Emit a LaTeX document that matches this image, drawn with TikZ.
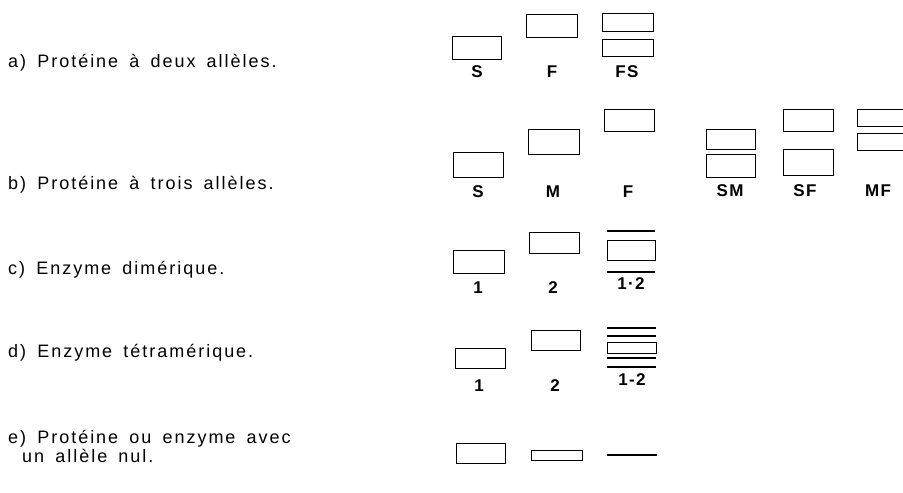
\documentclass[tikz,border=0pt]{standalone}
\usepackage{fontspec}
\setmainfont{Liberation Sans}[LetterSpace=11,WordSpace=1.6]
\newfontfamily\lblfont{Liberation Sans}[LetterSpace=8]
\begin{document}
\begin{tikzpicture}[x=1pt,y=-1pt,
  band/.style={draw=black,line width=0.9pt},
  thinband/.style={draw=black,line width=1.1pt},
  txt/.style={anchor=base west,inner sep=0pt,font=\fontsize{18}{21}\selectfont},
  lbl/.style={inner sep=0pt,font=\lblfont\bfseries\fontsize{17}{19}\selectfont}]
\useasboundingbox (0,0) rectangle (903,493);
% left texts
\node[txt] (ta) at (8,67) {a) Protéine à deux allèles.};
\node[txt] (tb) at (8,189) {b) Protéine à trois allèles.};
\node[txt] (tc) at (8,274) {c) Enzyme dimérique.};
\node[txt] (td) at (8,357) {d) Enzyme tétramérique.};
\node[txt] (te1) at (8,443) {e) Protéine ou enzyme avec};
\node[txt] (te2) at (22,462) {un allèle nul.};
% row a
\draw[band] (452,36) rectangle (501,59);
\draw[band] (526,14) rectangle (577,37);
\draw[band] (602,13) rectangle (653,31);
\draw[band] (602,39) rectangle (653,56);
\node[lbl] (la1) at (477,72) {S};
\node[lbl] (la2) at (552,72) {F};
\node[lbl] (la3) at (627,72) {FS};
% row b
\draw[band] (453,152) rectangle (503,177);
\draw[band] (528,129) rectangle (579,154);
\draw[band] (604,109) rectangle (654,131);
\draw[band] (706,129) rectangle (755,149);
\draw[band] (706,154) rectangle (755,177);
\draw[band] (783,109) rectangle (833,131);
\draw[band] (783,149) rectangle (833,175);
\draw[band] (857,109) rectangle (905,126);
\draw[band] (857,133) rectangle (905,150);
\node[lbl] (lb1) at (478,192) {S};
\node[lbl] (lb2) at (553,192) {M};
\node[lbl] (lb3) at (628,192) {F};
\node[lbl] (lb4) at (730,191) {SM};
\node[lbl] (lb5) at (805,191) {SF};
\node[lbl] (lb6) at (878,191) {MF};
% row c
\draw[band] (453,250) rectangle (504,273);
\draw[band] (529,232) rectangle (579,253);
\draw[thinband] (607,231) -- (655,231);
\draw[band] (607,240) rectangle (655,260);
\draw[thinband] (607,272) -- (655,272);
\node[lbl] (lc1) at (478,288) {1};
\node[lbl] (lc2) at (553,288) {2};
\node[lbl] (lc3) at (631,284) {1·2};
% row d
\draw[band] (455,348) rectangle (505,368);
\draw[band] (531,330) rectangle (580,350);
\draw[thinband] (607,328) -- (656,328);
\draw[thinband] (607,336) -- (656,336);
\draw[band] (607,342) rectangle (656,353);
\draw[thinband] (607,358) -- (656,358);
\draw[thinband] (607,367) -- (656,367);
\node[lbl] (ld1) at (479,386) {1};
\node[lbl] (ld2) at (555,386) {2};
\node[lbl] (ld3) at (632,380) {1-2};
% row e
\draw[band] (456,443) rectangle (505,463);
\draw[band] (531,450) rectangle (582,460);
\draw[thinband] (607,455) -- (657,455);
\end{tikzpicture}
\end{document}
